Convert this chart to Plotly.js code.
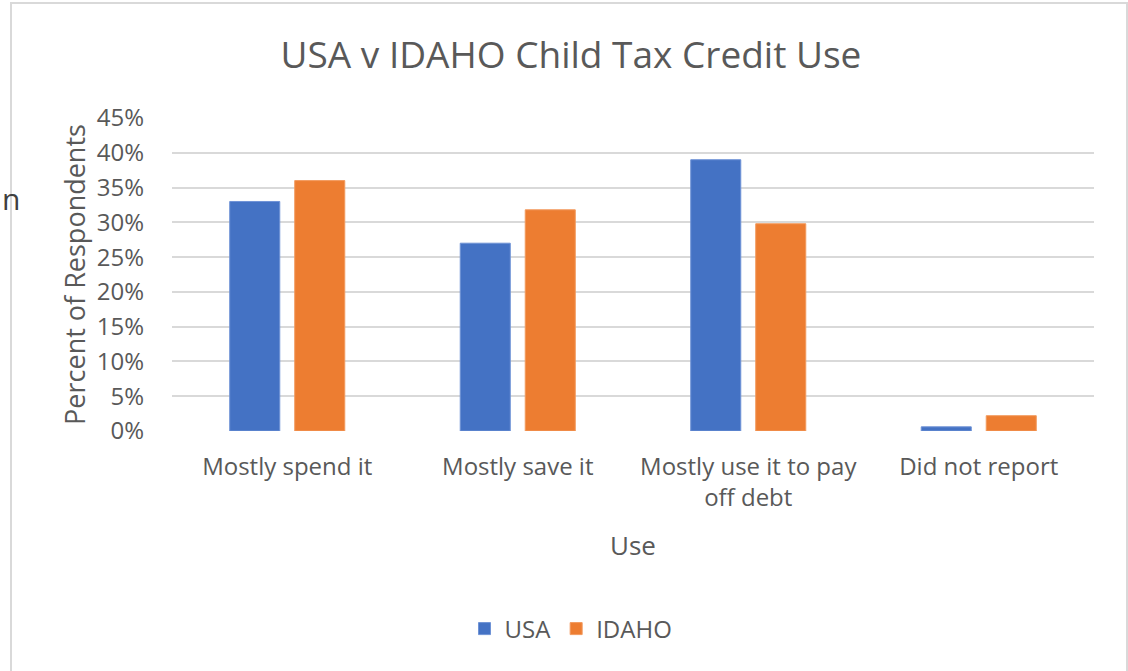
<!DOCTYPE html>
<html>
<head>
<meta charset="utf-8">
<script src="https://cdn.plot.ly/plotly-3.0.1.min.js"></script>
<style>
  html, body { margin: 0; padding: 0; background: #ffffff; }
  #chart { width: 1128px; height: 671px; }
</style>
</head>
<body>
<div id="chart"></div>
<script>
const categories = ["Mostly spend it", "Mostly save it", "Mostly use it to pay<br>off debt", "Did not report"];
const usaValues = [0.33, 0.27, 0.39, 0.006];
const idahoValues = [0.36, 0.318, 0.298, 0.022];
const yTickVals = [0, 0.05, 0.10, 0.15, 0.20, 0.25, 0.30, 0.35, 0.40, 0.45];
const yTickText = ["0%", "5%", "10%", "15%", "20%", "25%", "30%", "35%", "40%", "45%"];

const FONT = "'Open Sans', 'Noto Sans', sans-serif";
const GREY = "#595959";

const W = 1128, H = 671;
const mL = 172, mR = 34, mT = 118, mB = 240;
const pw = W - mL - mR, ph = H - mT - mB;
function px2x(p) { return (p - mL) / pw; }
function py2y(p) { return (H - mB - p) / ph; }

const traces = [
  { type: "bar", name: "USA", x: categories, y: usaValues,
    marker: { color: "#4472C4", line: { color: "#6f93d6", width: 1 } }, hoverinfo: "skip" },
  { type: "bar", name: "IDAHO", x: categories, y: idahoValues,
    marker: { color: "#ED7D31", line: { color: "#f29a5e", width: 1 } }, hoverinfo: "skip" }
];

const layout = {
  width: W, height: H,
  margin: { l: mL, r: mR, t: mT, b: mB, pad: 0 },
  paper_bgcolor: "#ffffff", plot_bgcolor: "#ffffff",
  font: { family: FONT, color: GREY, size: 24 },
  barmode: "group", bargap: 0.436, bargroupgap: 0.23,
  showlegend: true,
  title: { text: "USA v IDAHO Child Tax Credit Use", font: { family: FONT, size: 37, color: GREY },
           x: px2x(571), xref: "paper", xanchor: "center", y: 1 - 55 / H, yanchor: "middle" },
  xaxis: {
    type: "category", showgrid: false, zeroline: false, showline: false, ticks: "",
    tickfont: { family: FONT, size: 24, color: GREY }, ticklabelstandoff: 19,
    title: { text: "Use", font: { family: FONT, size: 26, color: GREY }, standoff: 24 }
  },
  yaxis: {
    range: [0, 0.45], tickvals: yTickVals, ticktext: yTickText,
    showgrid: true, gridcolor: "#d9d9d9", gridwidth: 2,
    zeroline: false, showline: false, ticks: "",
    tickfont: { family: FONT, size: 24, color: GREY }, ticklabelstandoff: 27,
    title: { text: "Percent of Respondents", font: { family: FONT, size: 27, color: GREY }, standoff: 3 }
  },
  legend: {
    orientation: "h", x: px2x(571), xanchor: "center", y: py2y(629), yanchor: "middle",
    font: { family: FONT, size: 24, color: GREY }, itemwidth: 30, traceorder: "normal"
  },
  shapes: [
    { type: "rect", xref: "paper", yref: "paper",
      x0: px2x(11), x1: px2x(1127), y0: py2y(3), y1: py2y(700),
      line: { color: "#d9d9d9", width: 2 }, fillcolor: "rgba(0,0,0,0)", layer: "below" }
  ],
  annotations: [
    { text: "n", xref: "paper", yref: "paper", x: px2x(0), y: py2y(198), xanchor: "left", yanchor: "middle",
      showarrow: false, font: { family: FONT, size: 30, color: "#404040" } }
  ]
};

Plotly.newPlot("chart", traces, layout, { displayModeBar: false, staticPlot: true });
</script>
</body>
</html>
